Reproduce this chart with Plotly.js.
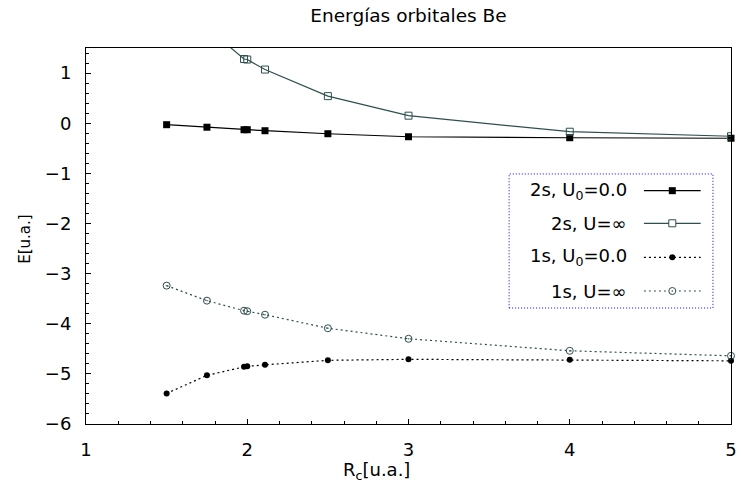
<!DOCTYPE html>
<html>
<head>
<meta charset="utf-8">
<script src="https://cdn.plot.ly/plotly-3.0.1.min.js"></script>
<style>html,body{margin:0;padding:0;background:#fff;}#chart{width:741px;height:498px;}</style>
</head>
<body>
<div id="chart"></div>
<script>
// ---- data ----
const rc = [1.5, 1.75, 1.98, 2.0, 2.11, 2.5, 3.0, 4.0, 5.0];
const e2sU0 = [-0.03, -0.08, -0.13, -0.13, -0.15, -0.21, -0.27, -0.29, -0.30];
const e2sUinf = [2.9, 1.91, 1.28, 1.27, 1.07, 0.54, 0.15, -0.17, -0.26];
const e1sU0 = [-5.39, -5.03, -4.86, -4.85, -4.82, -4.73, -4.71, -4.72, -4.74];
const e1sUinf = [-3.24, -3.54, -3.74, -3.75, -3.82, -4.09, -4.30, -4.54, -4.64];
const seriesNames = ['2s, U<sub>0</sub>=0.0', '2s, U=∞', '1s, U<sub>0</sub>=0.0', '1s, U=∞'];
const xTickVals = [1, 2, 3, 4, 5];
const yTickVals = [-6, -5, -4, -3, -2, -1, 0, 1];

const FONT = 'DejaVu Sans, Liberation Sans, Arial, sans-serif';
const SLATE = '#2f4f4f';
const DOTS = '2px,3px';

const traces = [
  {x: rc, y: e2sU0, name: seriesNames[0], mode: 'lines+markers', cliponaxis: false,
   line: {color: '#000', width: 1.2}, marker: {symbol: 'square', size: 7, color: '#000'}},
  {x: rc, y: e2sUinf, name: seriesNames[1], mode: 'lines+markers', cliponaxis: true,
   line: {color: SLATE, width: 1.2}, marker: {symbol: 'square-open', size: 7, color: SLATE, line: {width: 1}}},
  {x: rc, y: e1sU0, name: seriesNames[2], mode: 'lines+markers', cliponaxis: false,
   line: {color: '#000', width: 1.2, dash: DOTS}, marker: {symbol: 'circle', size: 6, color: '#000'}},
  {x: rc, y: e1sUinf, name: seriesNames[3], mode: 'lines+markers', cliponaxis: false,
   line: {color: SLATE, width: 1.2, dash: DOTS}, marker: {symbol: 'circle-open-dot', size: 7, color: SLATE, line: {width: 1}}}
];

// custom gnuplot-style key (text right, sample on the right)
const rowY = [0.6205, 0.5338, 0.4434, 0.3537];
const textX = 0.842, lineX0 = 0.865, lineX1 = 0.953, markX = 0.909;
const rowStyle = [
  {color: '#000', dash: 'solid', mark: 'sqfill'},
  {color: SLATE, dash: 'solid', mark: 'sqopen'},
  {color: '#000', dash: DOTS, mark: 'cfill'},
  {color: SLATE, dash: DOTS, mark: 'copendot'}
];
const shapes = [
  {type: 'rect', xref: 'paper', yref: 'paper', x0: 0.656, x1: 0.972, y0: 0.3085, y1: 0.665,
   line: {color: '#0000ff', width: 1, dash: '1px,2px'}, fillcolor: 'rgba(0,0,0,0)'}
];
const annotations = [];
rowY.forEach((yy, i) => {
  const st = rowStyle[i];
  annotations.push({xref: 'paper', yref: 'paper', x: textX, y: yy, xanchor: 'right', yanchor: 'middle',
    text: seriesNames[i], showarrow: false, font: {family: FONT, size: 18, color: '#000'}});
  shapes.push({type: 'line', xref: 'paper', yref: 'paper', x0: lineX0, x1: lineX1, y0: yy, y1: yy,
    line: {color: st.color, width: 1.2, dash: st.dash}});
  const base = {xref: 'paper', yref: 'paper', xsizemode: 'pixel', ysizemode: 'pixel', xanchor: markX, yanchor: yy};
  if (st.mark === 'sqfill') {
    shapes.push(Object.assign({}, base, {type: 'rect', x0: -3.5, x1: 3.5, y0: -3.5, y1: 3.5, fillcolor: '#000', line: {width: 0}}));
  } else if (st.mark === 'sqopen') {
    shapes.push(Object.assign({}, base, {type: 'rect', x0: -3.5, x1: 3.5, y0: -3.5, y1: 3.5, fillcolor: '#fff', line: {color: SLATE, width: 1}}));
  } else if (st.mark === 'cfill') {
    shapes.push(Object.assign({}, base, {type: 'circle', x0: -3, x1: 3, y0: -3, y1: 3, fillcolor: '#000', line: {width: 0}}));
  } else {
    shapes.push(Object.assign({}, base, {type: 'circle', x0: -3.5, x1: 3.5, y0: -3.5, y1: 3.5, fillcolor: '#fff', line: {color: SLATE, width: 1}}));
    shapes.push(Object.assign({}, base, {type: 'circle', x0: -0.8, x1: 0.8, y0: -0.8, y1: 0.8, fillcolor: SLATE, line: {width: 0}}));
  }
});
// axis titles
annotations.push({xref: 'paper', yref: 'paper', x: 0.45, y: -0.125, xanchor: 'center', yanchor: 'middle',
  text: 'R<sub>c</sub>[u.a.]', showarrow: false, font: {family: FONT, size: 18, color: '#000'}});
annotations.push({xref: 'paper', yref: 'paper', x: -0.095, y: 0.492, xanchor: 'center', yanchor: 'middle',
  textangle: -90, text: 'E[u.a.]', showarrow: false, font: {family: FONT, size: 15, color: '#000'}});

const axisCommon = {
  showgrid: false, zeroline: false, showline: true, linecolor: '#000', linewidth: 1, mirror: true,
  ticks: 'inside', ticklen: 5, tickwidth: 1, tickcolor: '#000',
  tickfont: {family: FONT, size: 18, color: '#000'},
  minor: {dtick: 0.2, ticks: 'inside', ticklen: 3, tickwidth: 1, tickcolor: '#000'}
};

const layout = {
  width: 741, height: 498,
  margin: {l: 86, r: 10, t: 48, b: 74, pad: 0},
  paper_bgcolor: '#fff', plot_bgcolor: '#fff',
  showlegend: false,
  title: {text: 'Energías orbitales Be', font: {family: FONT, size: 18.5, color: '#000'},
          xref: 'paper', x: 0.5, xanchor: 'center', yref: 'container', y: 0.968, yanchor: 'middle'},
  xaxis: Object.assign({}, axisCommon, {range: [1, 5], tickvals: xTickVals, ticklabelstandoff: 9}),
  yaxis: Object.assign({}, axisCommon, {range: [-6, 1.5], tickvals: yTickVals, ticklabelstandoff: 10}),
  shapes: shapes,
  annotations: annotations
};

Plotly.newPlot('chart', traces, layout, {displayModeBar: false, staticPlot: true});
</script>
</body>
</html>
